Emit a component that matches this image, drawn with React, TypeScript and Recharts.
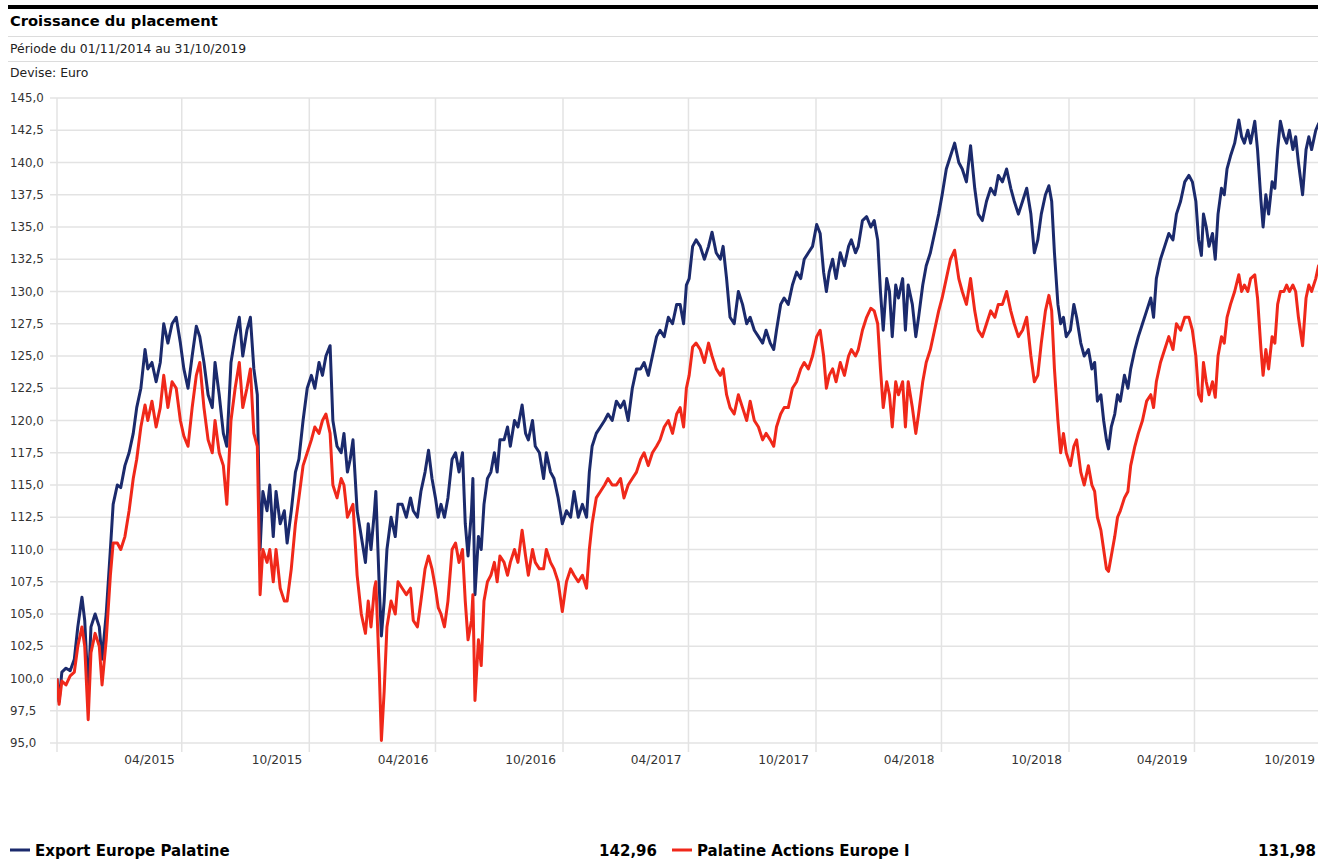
import React from "react";
import { LineChart, Line, XAxis, YAxis, CartesianGrid } from "recharts";

const dates = [
  "2014-11-01","2014-11-04","2014-11-08","2014-11-14","2014-11-20","2014-11-26","2014-12-01","2014-12-07","2014-12-11","2014-12-16",
  "2014-12-20","2014-12-26","2015-01-01","2015-01-05","2015-01-11","2015-01-17","2015-01-21","2015-01-27","2015-02-01","2015-02-07",
  "2015-02-13","2015-02-19","2015-02-24","2015-03-02","2015-03-08","2015-03-12","2015-03-18","2015-03-24","2015-03-30","2015-04-04",
  "2015-04-10","2015-04-16","2015-04-22","2015-04-28","2015-05-03","2015-05-09","2015-05-15","2015-05-21","2015-05-26","2015-06-01",
  "2015-06-07","2015-06-13","2015-06-17","2015-06-23","2015-06-29","2015-07-04","2015-07-10","2015-07-16","2015-07-22","2015-07-27",
  "2015-08-02","2015-08-07","2015-08-12","2015-08-17","2015-08-21","2015-08-25","2015-08-31","2015-09-04","2015-09-09","2015-09-13",
  "2015-09-19","2015-09-25","2015-09-29","2015-10-05","2015-10-11","2015-10-16","2015-10-22","2015-10-28","2015-11-03","2015-11-08",
  "2015-11-14","2015-11-19","2015-11-24","2015-11-30","2015-12-04","2015-12-10","2015-12-16","2015-12-20","2015-12-25","2015-12-29",
  "2016-01-02","2016-01-08","2016-01-14","2016-01-20","2016-01-24","2016-01-28","2016-02-02","2016-02-04","2016-02-09","2016-02-12",
  "2016-02-16","2016-02-20","2016-02-26","2016-03-03","2016-03-07","2016-03-13","2016-03-19","2016-03-25","2016-03-29","2016-04-04",
  "2016-04-09","2016-04-15","2016-04-20","2016-04-25","2016-04-30","2016-05-04","2016-05-08","2016-05-13","2016-05-18","2016-05-24",
  "2016-05-29","2016-06-03","2016-06-08","2016-06-12","2016-06-16","2016-06-21","2016-06-23","2016-06-26","2016-07-01","2016-07-05",
  "2016-07-09","2016-07-14","2016-07-19","2016-07-24","2016-07-28","2016-08-01","2016-08-07","2016-08-12","2016-08-16","2016-08-22",
  "2016-08-27","2016-09-02","2016-09-07","2016-09-11","2016-09-17","2016-09-21","2016-09-27","2016-10-03","2016-10-07","2016-10-13",
  "2016-10-18","2016-10-24","2016-10-30","2016-11-05","2016-11-11","2016-11-16","2016-11-22","2016-11-28","2016-12-04","2016-12-08",
  "2016-12-12","2016-12-18","2016-12-24","2016-12-30","2017-01-04","2017-01-10","2017-01-16","2017-01-22","2017-01-27","2017-02-02",
  "2017-02-08","2017-02-14","2017-02-20","2017-02-25","2017-03-03","2017-03-09","2017-03-15","2017-03-20","2017-03-26","2017-04-01",
  "2017-04-07","2017-04-13","2017-04-18","2017-04-23","2017-04-27","2017-05-01","2017-05-06","2017-05-11","2017-05-17","2017-05-23",
  "2017-05-29","2017-06-03","2017-06-09","2017-06-15","2017-06-19","2017-06-24","2017-06-29","2017-07-05","2017-07-11","2017-07-17",
  "2017-07-23","2017-07-28","2017-08-03","2017-08-09","2017-08-15","2017-08-20","2017-08-26","2017-08-31","2017-09-04","2017-09-10",
  "2017-09-15","2017-09-21","2017-09-27","2017-10-03","2017-10-09","2017-10-14","2017-10-20","2017-10-26","2017-11-01","2017-11-06",
  "2017-11-11","2017-11-15","2017-11-19","2017-11-24","2017-11-29","2017-12-05","2017-12-11","2017-12-17","2017-12-21","2017-12-27",
  "2017-12-31","2018-01-06","2018-01-12","2018-01-18","2018-01-23","2018-01-28","2018-02-01","2018-02-05","2018-02-10","2018-02-14",
  "2018-02-18","2018-02-23","2018-02-27","2018-03-05","2018-03-09","2018-03-13","2018-03-19","2018-03-24","2018-03-28","2018-04-03",
  "2018-04-08","2018-04-14","2018-04-20","2018-04-26","2018-05-01","2018-05-07","2018-05-13","2018-05-19","2018-05-25","2018-05-30",
  "2018-06-05","2018-06-11","2018-06-17","2018-06-22","2018-06-28","2018-07-04","2018-07-10","2018-07-16","2018-07-21","2018-07-27",
  "2018-08-02","2018-08-08","2018-08-13","2018-08-19","2018-08-25","2018-08-31","2018-09-06","2018-09-11","2018-09-16","2018-09-21",
  "2018-09-27","2018-10-02","2018-10-06","2018-10-10","2018-10-15","2018-10-19","2018-10-23","2018-10-27","2018-11-02","2018-11-07",
  "2018-11-11","2018-11-17","2018-11-22","2018-11-28","2018-12-03","2018-12-07","2018-12-11","2018-12-16","2018-12-20","2018-12-24",
  "2018-12-27","2018-12-31","2019-01-05","2019-01-09","2019-01-13","2019-01-19","2019-01-24","2019-01-28","2019-02-03","2019-02-08",
  "2019-02-14","2019-02-20","2019-02-26","2019-03-02","2019-03-06","2019-03-12","2019-03-18","2019-03-24","2019-03-30","2019-04-04",
  "2019-04-10","2019-04-16","2019-04-22","2019-04-27","2019-05-02","2019-05-06","2019-05-10","2019-05-13","2019-05-17","2019-05-21",
  "2019-05-26","2019-05-30","2019-06-03","2019-06-08","2019-06-12","2019-06-16","2019-06-21","2019-06-27","2019-07-03","2019-07-07",
  "2019-07-11","2019-07-16","2019-07-20","2019-07-26","2019-07-30","2019-08-04","2019-08-07","2019-08-11","2019-08-15","2019-08-20",
  "2019-08-24","2019-08-28","2019-09-01","2019-09-06","2019-09-10","2019-09-14","2019-09-19","2019-09-23","2019-09-27","2019-10-03",
  "2019-10-08","2019-10-12","2019-10-16","2019-10-22","2019-10-26","2019-10-31",
];

const exportEuropePalatine = [
  100,98.2,100.5,100.8,100.6,101.5,104,106.3,104.5,99,
  104,105,104,101.5,105,110,113.5,115,114.8,116.5,
  117.5,119,121,122.5,125.5,124,124.5,123,124.5,127.5,
  126,127.5,128,126,124,122.5,125,127.3,126.5,124.5,
  122,121,124.5,122,119,118,124.5,126.5,128,125,
  127,128,124,122,110,114.5,113,115,111,114.5,
  112,113,110.5,113,116,117,120,122.5,123.5,122.5,
  124.5,123.5,125,125.8,120,118,117.5,119,116,117,
  118.5,113,111,109,112,110,113,114.5,107,103.3,
  106,110,112.5,111,113.5,113.5,112.5,114,113,112.5,
  114.5,116,117.7,115.5,114,112.5,113.5,112.5,114,117,
  117.5,116,117.5,112,109.5,113,115.5,106.5,111,110,
  113.5,115.5,116,117.5,116,118.5,118.5,119.5,118,120,
  119.5,121.2,119,118.5,120,118,117.5,115.5,117.5,116,
  115.5,114,112,113,112.5,114.5,112.5,113.5,112.5,116,
  118,119,119.5,120,120.5,120,121.5,121,121.5,120,
  122.5,124,124,124.5,123.5,125,126.5,127,126.5,128,
  127.5,129,129,127.5,130.5,131,133.5,134,133.5,132.5,
  133.5,134.6,133,132.5,133.5,131,128,127.5,130,129,
  127.5,128,127,126.5,126,127,126,125.5,127,129,
  129.5,129,130.5,131.5,131,132.5,133,133.5,135.2,134.5,
  131.5,130,131.5,132.5,131,133,132,133.5,134,133,
  133.5,135.5,135.8,135,135.5,134,130,127,131,130,
  126.5,130.5,129.5,131,127,130.5,129,126.5,128,130.5,
  132,133,134.5,136,137.5,139.5,140.5,141.5,140,139.5,
  138.5,141.3,138,136,135.5,137,138,137.5,139,138.5,
  139.5,138,137,136,137,138,136,133,134,136,
  137.5,138.2,137,133,129,127.5,128,126.5,127,129,
  128,126,125,125.5,124,124.5,121.5,122,120,118.5,
  117.8,119.5,120.5,122,121.5,123.5,122.5,124,125.5,126.5,
  127.5,128.5,129.5,128,131,132.5,133.5,134.5,134,136,
  137,138.5,139,138.5,137,134,132.8,136,135,133.5,
  134.5,132.5,136,138,137.5,139.5,140.5,141.5,143.3,142,
  141.5,142.5,141.5,143.2,141,137,135,137.5,136,138.5,
  138,141,143.2,142,141.5,142.5,141,142,140,137.5,
  141,142,141,142.5,143,142.96,
];

const palatineActionsEuropeI = [
  100,98,99.8,99.5,100.2,100.5,102.5,104,102.5,96.8,
  102,103.5,102.5,99.5,103,108,110.5,110.5,110,111,
  113,115.5,117,119.5,121.2,120,121.5,119.5,121,123.5,
  121,123,122.5,120,118.8,118,121,123.5,124.5,121,
  118.5,117.5,120,117.5,116.5,113.5,120,122.5,124.5,121,
  122.5,124,119,118,106.5,110,109,110,107.5,110,
  107,106,106,108.5,112,114,116.5,117.5,118.5,119.5,
  119,120,120.5,119,115,114,115.5,115,112.5,113,
  113.5,108,105,103.5,106,104,107,107.5,100.5,95.2,
  99,104,106,105,107.5,107,106.5,107,104.5,104,
  106,108.5,109.5,108.5,107,105.5,105,104,106,110,
  110.5,109,110,106,103,104.5,106.5,98.3,103,101,
  106,107.5,108,109,107.5,109.5,109,108,109,110,
  109,111.5,109.5,108,110,109,108.5,108.5,110,109,
  108.5,107.5,105.2,107.5,108.5,108,107.5,108,107,110,
  112,114,114.5,115,115.5,115,115,115.5,114,115,
  115.5,116,117,117.5,116.5,117.5,118,118.5,119.5,120,
  119,120.5,121,119.5,122.5,123.5,125.7,126,125.5,124.5,
  126,125,124,123.5,124,122,121,120.5,122,121,
  120,121.5,120,119.5,118.5,119,118.5,118,119.5,120.5,
  121,121,122.5,123,124,124.5,124,125,126.5,127,
  125,122.5,123.5,124,123,124.5,123.5,125,125.5,125,
  125.5,127,128,128.7,128.5,127.5,124,121,123,122,
  119.5,123,122,123,119.5,123,121,119,120.5,123,
  124.5,125.5,127,128.5,129.5,131,132.5,133.2,131,130,
  129,131,128.5,127,126.5,127.5,128.5,128,129,129,
  130,128.5,127.5,126.5,127,128,125,123,123.5,126,
  128.5,129.7,128.5,124,120,117.5,119,117.5,116.5,118,
  118.5,116,115,116.5,115,114.5,112.5,111.5,110,108.5,
  108.3,109.5,111,112.5,113,114,114.5,116.5,118,119,
  120,121.5,122,121,123,124.5,125.5,126.5,125.5,127.5,
  127,128,128,127,125,122,121.5,124.5,123,122,
  123,121.8,125,126.5,126,128,129,130,131.3,130,
  130.5,130,131,131.3,129.5,125.5,123.5,125.5,124,126.5,
  126,129,130,130,130.5,130,130.5,130,128,125.8,
  129.5,130.5,130,131,132,131.98,
];

const tickDates = [
  "2014-11-01","2015-04-30","2015-10-31","2016-04-30","2016-10-31","2017-04-30",
  "2017-10-31","2018-04-30","2018-10-31","2019-04-30","2019-10-31",
];
const tickLabels = ["", "04/2015", "10/2015", "04/2016", "10/2016", "04/2017", "10/2017", "04/2018", "10/2018", "04/2019", "10/2019"];
const yTicks = [95, 97.5, 100, 102.5, 105, 107.5, 110, 112.5, 115, 117.5, 120, 122.5, 125, 127.5, 130, 132.5, 135, 137.5, 140, 142.5, 145];

const seriesNames = ["Export Europe Palatine", "Palatine Actions Europe I"];
const lastValues = ["142,96", "131,98"];

const NAVY = "#1b2a6c";
const RED = "#f0281a";
const GRID = "#e3e3e3";
const FONT = "'DejaVu Sans', Verdana, sans-serif";

const data = dates.map((d, i) => ({
  t: Date.parse(d),
  a: exportEuropePalatine[i],
  b: palatineActionsEuropeI[i],
}));
const xTicks = tickDates.map((d) => Date.parse(d));

const XTick = (props: any) => {
  const { x, payload } = props;
  const idx = xTicks.indexOf(payload.value);
  const label = idx >= 0 ? tickLabels[idx] : "";
  return (
    <text x={x - 7} y={764} textAnchor="end" fontSize={12.2} fontFamily={FONT} fill="#333">
      {label}
    </text>
  );
};

const YTick = (props: any) => {
  const { y, payload } = props;
  return (
    <text x={10} y={y + 4} textAnchor="start" fontSize={11.8} fontFamily={FONT} fill="#333">
      {Number(payload.value).toFixed(1).replace(".", ",")}
    </text>
  );
};

export default function App() {
  return (
    <div style={{ position: "absolute", left: 0, top: 0, width: 1318, height: 861, overflow: "hidden", background: "#fff" }}>
      <style>{"body{overflow:hidden;margin:8px;}"}</style>
      <div style={{ position: "absolute", left: 0, top: 0 }}>
        <LineChart width={1330} height={783} data={data} margin={{ top: 98, right: 8, bottom: 10, left: 0 }}>
          <CartesianGrid stroke={GRID} strokeWidth={1.5} />
          <XAxis
            dataKey="t"
            type="number"
            domain={[xTicks[0], xTicks[xTicks.length - 1]]}
            ticks={xTicks}
            interval={0}
            height={30}
            axisLine={false}
            tickSize={9}
            tickLine={{ stroke: GRID, strokeWidth: 1.5 }}
            tick={<XTick />}
            allowDataOverflow
          />
          <YAxis
            type="number"
            domain={[95, 145]}
            ticks={yTicks}
            interval={0}
            width={57}
            axisLine={false}
            tickSize={7}
            tickLine={{ stroke: GRID, strokeWidth: 1.5 }}
            tick={<YTick />}
            allowDataOverflow
          />
          <Line type="linear" dataKey="a" stroke={NAVY} strokeWidth={3} strokeLinejoin="round" dot={false} isAnimationActive={false} />
          <Line type="linear" dataKey="b" stroke={RED} strokeWidth={3} strokeLinejoin="round" dot={false} isAnimationActive={false} />
        </LineChart>
      </div>
      <svg width={1318} height={861} style={{ position: "absolute", left: 0, top: 0, pointerEvents: "none" }}>
        <rect x={8} y={5} width={1310} height={4} fill="#000" />
        <text x={10} y={26} fontSize={14.7} fontWeight="bold" fontFamily={FONT} fill="#000">Croissance du placement</text>
        <line x1={8} x2={1318} y1={36.5} y2={36.5} stroke="#dcdcdc" strokeWidth={1} />
        <text x={10} y={53} fontSize={12.4} fontFamily={FONT} fill="#222">Période du 01/11/2014 au 31/10/2019</text>
        <line x1={8} x2={1318} y1={61.5} y2={61.5} stroke="#dcdcdc" strokeWidth={1} />
        <text x={10} y={77} fontSize={12.4} fontFamily={FONT} fill="#222">Devise: Euro</text>

        <line x1={10} x2={30} y1={850} y2={850} stroke={NAVY} strokeWidth={3} />
        <text x={35} y={855.5} fontSize={15} fontWeight="bold" fontFamily={FONT} fill="#000">{seriesNames[0]}</text>
        <text x={657} y={855.5} textAnchor="end" fontSize={15} fontWeight="bold" fontFamily={FONT} fill="#000">{lastValues[0]}</text>
        <line x1={672} x2={692} y1={850} y2={850} stroke={RED} strokeWidth={3} />
        <text x={697} y={855.5} fontSize={15} fontWeight="bold" fontFamily={FONT} fill="#000">{seriesNames[1]}</text>
        <text x={1316} y={855.5} textAnchor="end" fontSize={15} fontWeight="bold" fontFamily={FONT} fill="#000">{lastValues[1]}</text>
      </svg>
    </div>
  );
}
